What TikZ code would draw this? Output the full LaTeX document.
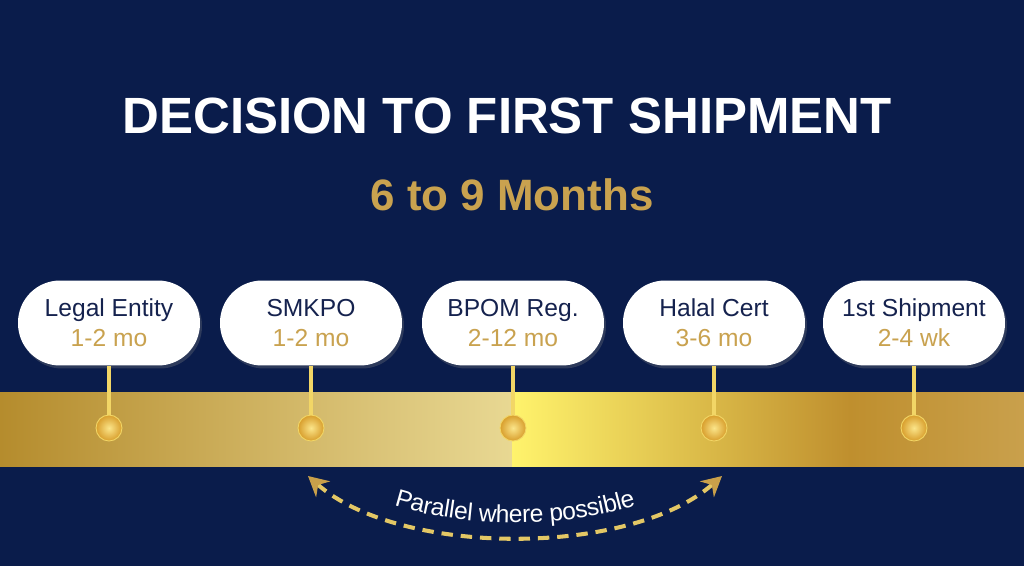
\documentclass[tikz,border=0pt]{standalone}
\usepackage{fontspec}
\setmainfont{Liberation Sans}
\usetikzlibrary{arrows.meta,decorations.text,shadows}
\definecolor{navybg}{HTML}{0A1C4B}
\definecolor{navytxt}{HTML}{15224E}
\definecolor{goldtxt}{HTML}{C9A24F}
\definecolor{golddark}{HTML}{B58C2D}
\definecolor{goldlight}{HTML}{E8D893}
\definecolor{goldbright}{HTML}{FFF36C}
\definecolor{goldmid}{HTML}{BF8F2E}
\definecolor{goldend}{HTML}{C9A04C}
\definecolor{stemgold}{HTML}{F2D666}
\definecolor{dashgold}{HTML}{E3C765}
\definecolor{tipgold}{HTML}{C9A04A}
\definecolor{ballgold}{HTML}{D89E2C}
\definecolor{ballhi}{HTML}{FBE58A}
\tikzset{
  pill/.style={fill=white, rounded corners=0.84cm, minimum width=3.64cm,
    minimum height=1.7cm, align=center, font=\fontsize{14}{17}\selectfont,
    drop shadow={opacity=0.3, shadow xshift=0.04cm, shadow yshift=-0.06cm}},
  dot/.style={circle, minimum size=0.52cm, inner sep=0pt, shading=radial,
    inner color=ballhi, outer color=ballgold, draw=stemgold, line width=0.5pt},
  stem/.style={stemgold, line width=2.8pt},
  parallel/.style={dashgold, line width=2.3pt, dash pattern=on 6.5pt off 4.5pt,
    {Stealth[length=0.4cm, width=0.42cm, color=tipgold]}-{Stealth[length=0.4cm, width=0.42cm, color=tipgold]}}
}
\newcommand{\steplabel}[2]{\textcolor{navytxt}{#1}\\\textcolor{goldtxt}{#2}}
\begin{document}
\begin{tikzpicture}[x=0.02cm, y=0.02cm]
\useasboundingbox (0,0) rectangle (1024,566);
\fill[navybg] (0,0) rectangle (1024,566);
\begin{scope}
\shade[left color=golddark, right color=goldlight] (0,100) rectangle (512,174);
\shade[left color=goldbright, right color=goldmid] (512,100) rectangle (850,174);
\shade[left color=goldmid, right color=goldend] (850,100) rectangle (1024,174);
\end{scope}
\node[anchor=base, text=white, font=\fontsize{29}{29}\selectfont\bfseries] (title) at (507,433) {DECISION TO FIRST SHIPMENT};
\node[anchor=base, text=goldtxt, font=\fontsize{25}{25}\selectfont\bfseries] (sub) at (512,356) {6 to 9 Months};
\node[pill] (p1) at (109,243) {\steplabel{Legal Entity}{1-2 mo}};
\node[pill] (p2) at (311,243) {\steplabel{SMKPO}{1-2 mo}};
\node[pill] (p3) at (513,243) {\steplabel{BPOM Reg.}{2-12 mo}};
\node[pill] (p4) at (714,243) {\steplabel{Halal Cert}{3-6 mo}};
\node[pill] (p5) at (914,243) {\steplabel{1st Shipment}{2-4 wk}};
\node[dot] (d1) at (109,138) {};
\node[dot] (d2) at (311,138) {};
\node[dot] (d3) at (513,138) {};
\node[dot] (d4) at (714,138) {};
\node[dot] (d5) at (914,138) {};
\path[draw,stem] (p1) -- (d1);
\path[draw,stem] (p2) -- (d2);
\path[draw,stem] (p3) -- (d3);
\path[draw,stem] (p4) -- (d4);
\path[draw,stem] (p5) -- (d5);
\coordinate (al) at (308,90);
\coordinate (ar) at (722,90);
\coordinate (c1) at (400,9);
\coordinate (c2) at (630,9);
\path[draw,parallel] (al) .. controls (c1) and (c2) .. (ar);
\path[decorate, decoration={text along path, text={|\fontsize{14}{14}\selectfont|Parallel where possible},
  text color=white, text align=center, raise=8pt}] (al) .. controls (c1) and (c2) .. (ar);
\end{tikzpicture}
\end{document}
